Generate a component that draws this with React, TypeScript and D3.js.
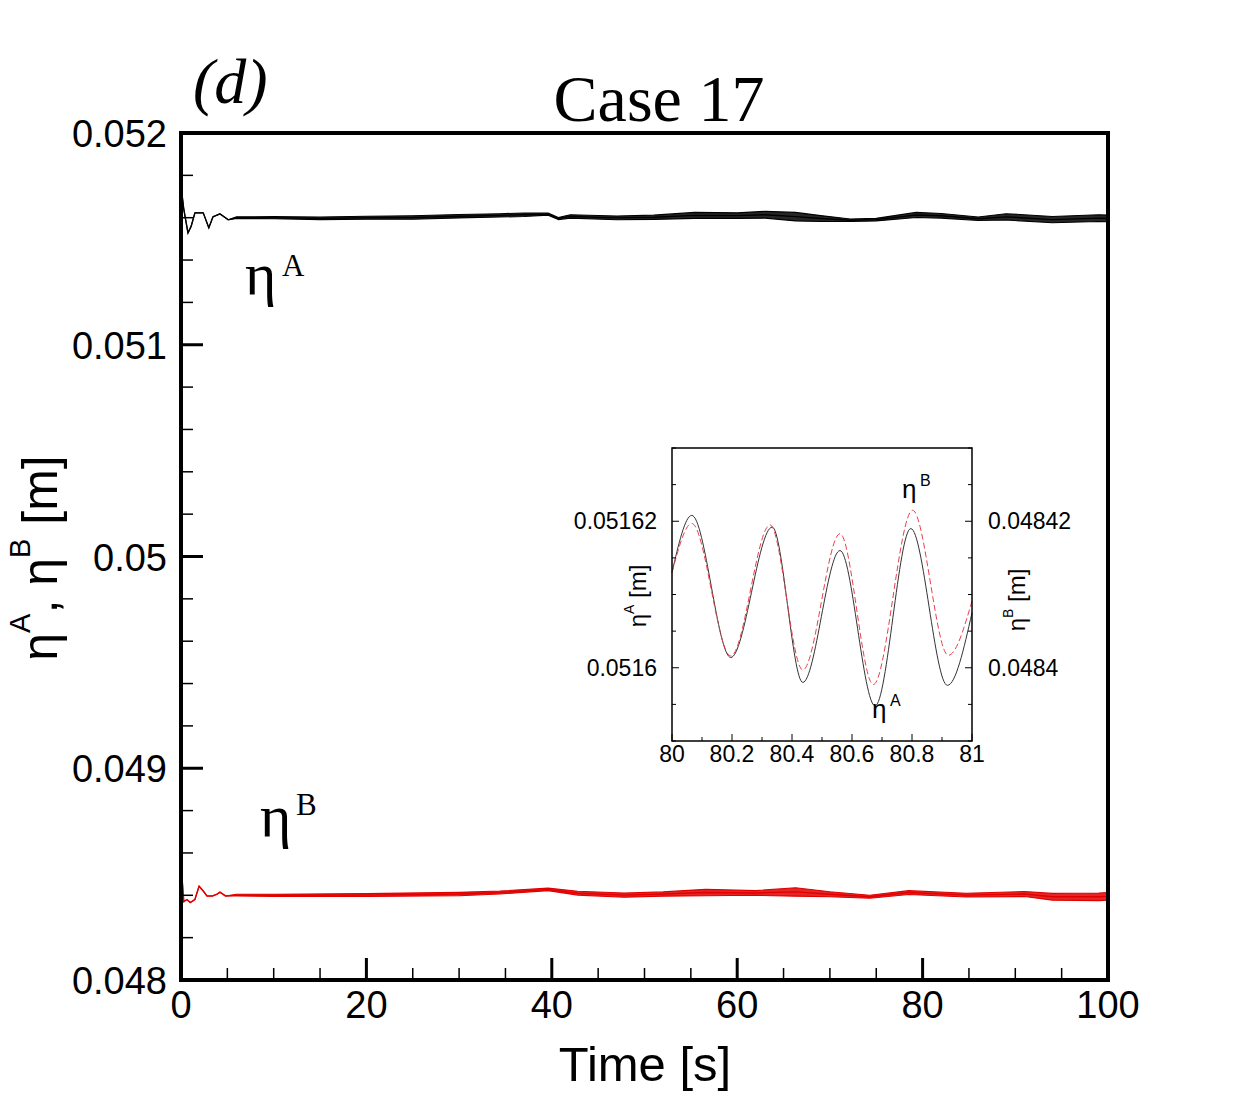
import React from 'react';
import * as d3 from 'd3';

// ---------- main plot data ----------
const timeA = [0, 0.3, 0.75, 1.1, 1.5, 2.4, 3.0, 3.45, 4.2, 5.1, 6, 10, 15, 20, 25, 30, 34.4, 37, 39.6, 40.7, 42, 47, 51, 55.4, 60, 63, 66.3, 69, 72.2, 75, 79.3, 82, 86, 89, 94, 99, 100];
const meanA = [0.05175, 0.05164, 0.051528, 0.05156, 0.051623, 0.051623, 0.051552, 0.051604, 0.051618, 0.05159, 0.0516, 0.0516, 0.051597, 0.0516, 0.051601, 0.051607, 0.051611, 0.051614, 0.051617, 0.051596, 0.051606, 0.051599, 0.051602, 0.051611, 0.05161, 0.051614, 0.051605, 0.051596, 0.051588, 0.051591, 0.051613, 0.051609, 0.051595, 0.051604, 0.051591, 0.051598, 0.051597];
const ampA = [0, 0, 0, 0, 0, 0, 0, 0, 0, 0, 0.000004, 0.000005, 0.000006, 0.000007, 0.000008, 0.000008, 0.000008, 0.000008, 0.000005, 0.000005, 0.000008, 0.000009, 0.00001, 0.000014, 0.000013, 0.000016, 0.00002, 0.000014, 0.000006, 0.000006, 0.000012, 0.000011, 0.000008, 0.000015, 0.000015, 0.000016, 0.000016];

const timeB = [0, 0.3, 0.65, 1.0, 1.5, 1.95, 2.4, 2.8, 3.4, 3.9, 4.2, 4.8, 6, 10, 20, 30, 34.4, 39.6, 42.8, 47.8, 52, 56.6, 62, 66.3, 70, 74.3, 78.5, 84.7, 91, 94, 99, 100];
const meanB = [0.04855, 0.04837, 0.04838, 0.048366, 0.04838, 0.048443, 0.04842, 0.048397, 0.048397, 0.048406, 0.048415, 0.048397, 0.048401, 0.0484, 0.048401, 0.048406, 0.048413, 0.048428, 0.04841, 0.048401, 0.048406, 0.048413, 0.048411, 0.048416, 0.048405, 0.048393, 0.048413, 0.048401, 0.048406, 0.048393, 0.048393, 0.048395];
const ampB = [0, 0, 0, 0, 0, 0, 0, 0, 0, 0, 0, 0, 0.000004, 0.000005, 0.000007, 0.000008, 0.000007, 0.000006, 0.000009, 0.00001, 0.00001, 0.000015, 0.000011, 0.00002, 0.000012, 0.000007, 0.000009, 0.000009, 0.000012, 0.000016, 0.000018, 0.000018];

const xMajorTicks = [0, 20, 40, 60, 80, 100];
const yMajorTicks = [0.048, 0.049, 0.05, 0.051, 0.052];
const yMajorLabels = ['0.048', '0.049', '0.05', '0.051', '0.052'];

// ---------- inset data (t = 80..81 s) ----------
const insetTimeA = [80, 80.066, 80.196, 80.334, 80.436, 80.56, 80.677, 80.796, 80.918, 81];
const insetA = [0.051613, 0.0516208, 0.0516014, 0.0516192, 0.051598, 0.051616, 0.0515948, 0.051619, 0.0515976, 0.0516075];
const insetTimeB = [80, 80.066, 80.196, 80.327, 80.436, 80.56, 80.671, 80.802, 80.921, 81];
const insetB = [0.048413, 0.0484197, 0.0484016, 0.0484195, 0.0483997, 0.0484183, 0.0483977, 0.0484215, 0.0484017, 0.0484091];

const insetXTicks = [80, 80.2, 80.4, 80.6, 80.8, 81];
const insetXLabels = ['80', '80.2', '80.4', '80.6', '80.8', '81'];
const insetLeftTicks = [0.0516, 0.05162];
const insetLeftLabels = ['0.0516', '0.05162'];
const insetRightTicks = [0.0484, 0.04842];
const insetRightLabels = ['0.0484', '0.04842'];

const SANS = '"Liberation Sans", Arial, Helvetica, sans-serif';
const SERIF = '"Liberation Serif", "Times New Roman", serif';

export default function App() {
  // main plot geometry
  const L = 181, R = 1108, T = 133, B = 980;
  const x = d3.scaleLinear().domain([0, 100]).range([L, R]);
  const y = d3.scaleLinear().domain([0.048, 0.052]).range([B, T]);

  const mkArea = (ts: number[], ms: number[], as: number[]) =>
    d3.area<number>()
      .x((_, i) => x(ts[i]))
      .y0((_, i) => y(ms[i] - as[i]))
      .y1((_, i) => y(ms[i] + as[i]))(ms) || '';
  const mkLine = (ts: number[], ms: number[]) =>
    d3.line<number>().x((_, i) => x(ts[i])).y((d) => y(d))(ms) || '';

  const xMinor = x.ticks(20).filter((t) => !xMajorTicks.includes(t));
  const yMinor = y.ticks(20).filter((t) => !yMajorTicks.some((m) => Math.abs(m - t) < 1e-9));

  // inset geometry
  const iL = 672, iR = 972, iT = 448, iB = 741;
  const ix = d3.scaleLinear().domain([80, 81]).range([iL, iR]);
  const iyA = d3.scaleLinear().domain([0.05159, 0.05163]).range([iB, iT]);
  const iyB = d3.scaleLinear().domain([0.04839, 0.04843]).range([iB, iT]);
  const insetLineA = d3.line<number>().x((_, i) => ix(insetTimeA[i])).y((d) => iyA(d)).curve(d3.curveMonotoneX)(insetA) || '';
  const insetLineB = d3.line<number>().x((_, i) => ix(insetTimeB[i])).y((d) => iyB(d)).curve(d3.curveMonotoneX)(insetB) || '';
  const ixMinor = ix.ticks(10).filter((t) => !insetXTicks.some((m) => Math.abs(m - t) < 1e-9));
  const iyTicks = iyA.ticks(8);

  return (
    <svg width={1242} height={1105} style={{ position: 'absolute', left: 0, top: 0, background: '#fff' }}>
      <rect x={0} y={0} width={1242} height={1105} fill="#fff" />

      {/* titles */}
      <text x={193} y={103} fontFamily={SERIF} fontStyle="italic" fontSize={64}>(d)</text>
      <text x={659} y={121} fontFamily={SERIF} fontSize={66} textAnchor="middle">Case 17</text>

      {/* series */}
      <path d={mkArea(timeA, meanA, ampA)} fill="#000" fillOpacity={0.85} stroke="#000" strokeWidth={1.1} strokeLinejoin="round" />
      <path d={mkLine(timeA, meanA)} fill="none" stroke="#000" strokeWidth={1.4} />
      <path d={mkArea(timeB, meanB, ampB)} fill="#e00000" fillOpacity={0.85} stroke="#e00000" strokeWidth={1.1} strokeLinejoin="round" />
      <path d={mkLine(timeB, meanB)} fill="none" stroke="#e00000" strokeWidth={1.4} />

      {/* ticks */}
      {xMajorTicks.map((t) => (
        <line key={'xm' + t} x1={x(t)} x2={x(t)} y1={B} y2={B - 22} stroke="#000" strokeWidth={3} />
      ))}
      {xMinor.map((t) => (
        <line key={'xn' + t} x1={x(t)} x2={x(t)} y1={B} y2={B - 12} stroke="#000" strokeWidth={1.5} />
      ))}
      {yMajorTicks.map((t) => (
        <line key={'ym' + t} x1={L} x2={L + 22} y1={y(t)} y2={y(t)} stroke="#000" strokeWidth={3} />
      ))}
      {yMinor.map((t) => (
        <line key={'yn' + t} x1={L} x2={L + 12} y1={y(t)} y2={y(t)} stroke="#000" strokeWidth={1.5} />
      ))}

      {/* frame */}
      <rect x={L} y={T} width={R - L} height={B - T} fill="none" stroke="#000" strokeWidth={4} />

      {/* tick labels */}
      {xMajorTicks.map((t) => (
        <text key={'xl' + t} x={x(t)} y={1018} fontFamily={SANS} fontSize={38} textAnchor="middle">{t}</text>
      ))}
      {yMajorTicks.map((t, i) => (
        <text key={'yl' + t} x={167} y={y(t) + 14} fontFamily={SANS} fontSize={38} textAnchor="end">{yMajorLabels[i]}</text>
      ))}

      {/* axis titles */}
      <text x={645} y={1081} fontFamily={SANS} fontSize={49} textAnchor="middle">Time [s]</text>
      <text transform="translate(57,558) rotate(-90)" fontFamily={SANS} fontSize={50} textAnchor="middle">
        η<tspan dy={-27} fontSize={29}>A</tspan><tspan dy={27}>, η</tspan><tspan dy={-27} fontSize={29}>B</tspan><tspan dy={27}> [m]</tspan>
      </text>

      {/* in-plot labels */}
      <text x={245} y={294} fontFamily={SERIF} fontSize={60}>η</text>
      <text x={282} y={276} fontFamily={SERIF} fontSize={31}>A</text>
      <text x={260} y={836} fontFamily={SERIF} fontSize={60}>η</text>
      <text x={296} y={815} fontFamily={SERIF} fontSize={31}>B</text>

      {/* ---------- inset ---------- */}
      <rect x={iL} y={iT} width={iR - iL} height={iB - iT} fill="#fff" stroke="none" />
      <path d={insetLineA} fill="none" stroke="#333" strokeWidth={1} />
      <path d={insetLineB} fill="none" stroke="#e8404c" strokeWidth={1} strokeDasharray="6,3" />
      {insetXTicks.map((t) => (
        <line key={'ixm' + t} x1={ix(t)} x2={ix(t)} y1={iB} y2={iB - 7} stroke="#000" strokeWidth={1} />
      ))}
      {ixMinor.map((t) => (
        <line key={'ixn' + t} x1={ix(t)} x2={ix(t)} y1={iB} y2={iB - 4} stroke="#000" strokeWidth={1} />
      ))}
      {iyTicks.map((t) => {
        const major = insetLeftTicks.some((m) => Math.abs(m - t) < 1e-9);
        const len = major ? 7 : 4;
        return (
          <g key={'iy' + t}>
            <line x1={iL} x2={iL + len} y1={iyA(t)} y2={iyA(t)} stroke="#000" strokeWidth={1} />
            <line x1={iR} x2={iR - len} y1={iyA(t)} y2={iyA(t)} stroke="#000" strokeWidth={1} />
          </g>
        );
      })}
      <rect x={iL} y={iT} width={iR - iL} height={iB - iT} fill="none" stroke="#000" strokeWidth={1.5} />

      {insetXTicks.map((t, i) => (
        <text key={'ixl' + t} x={ix(t)} y={762} fontFamily={SANS} fontSize={23} textAnchor="middle">{insetXLabels[i]}</text>
      ))}
      {insetLeftTicks.map((t, i) => (
        <text key={'iyl' + t} x={657} y={iyA(t) + 8} fontFamily={SANS} fontSize={23} textAnchor="end">{insetLeftLabels[i]}</text>
      ))}
      {insetRightTicks.map((t, i) => (
        <text key={'iyr' + t} x={988} y={iyB(t) + 8} fontFamily={SANS} fontSize={23} textAnchor="start">{insetRightLabels[i]}</text>
      ))}
      <text transform="translate(646,596) rotate(-90)" fontFamily={SANS} fontSize={24} textAnchor="middle">
        η<tspan dy={-12} fontSize={14}>A</tspan><tspan dy={12}> [m]</tspan>
      </text>
      <text transform="translate(1025,600) rotate(-90)" fontFamily={SANS} fontSize={24} textAnchor="middle">
        η<tspan dy={-12} fontSize={14}>B</tspan><tspan dy={12}> [m]</tspan>
      </text>
      <text x={902} y={498} fontFamily={SANS} fontSize={26}>η</text>
      <text x={920} y={486} fontFamily={SANS} fontSize={16}>B</text>
      <text x={872} y={718} fontFamily={SANS} fontSize={26}>η</text>
      <text x={890} y={706} fontFamily={SANS} fontSize={16}>A</text>
    </svg>
  );
}
